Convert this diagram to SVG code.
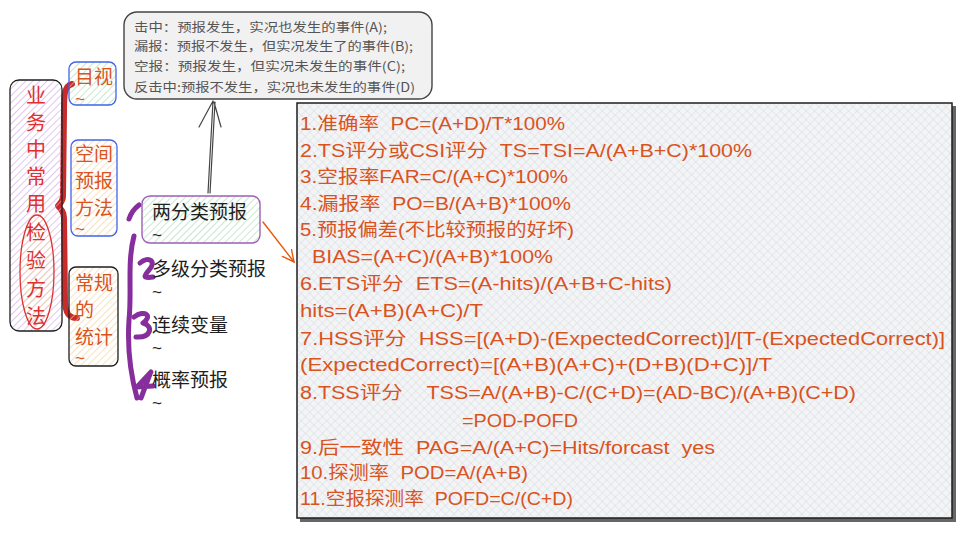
<svg xmlns="http://www.w3.org/2000/svg" width="960" height="551" viewBox="0 0 960 551">
<defs>
<pattern id="hPurple" patternUnits="userSpaceOnUse" width="5" height="5" patternTransform="rotate(45)"><line x1="0" y1="0" x2="0" y2="5" stroke="#cfa8e3" stroke-width="1.3"/></pattern>
<pattern id="hGreen" patternUnits="userSpaceOnUse" width="5" height="5" patternTransform="rotate(45)"><line x1="0" y1="0" x2="0" y2="5" stroke="#a8dcb0" stroke-width="1.3"/></pattern>
<pattern id="hOrange" patternUnits="userSpaceOnUse" width="5" height="5" patternTransform="rotate(45)"><line x1="0" y1="0" x2="0" y2="5" stroke="#f5d39e" stroke-width="1.3"/></pattern>
<pattern id="hGrid" patternUnits="userSpaceOnUse" width="6" height="6" patternTransform="rotate(45)"><rect width="6" height="6" fill="#f3f4f6"/><line x1="0" y1="0" x2="0" y2="6" stroke="#d5d8dc" stroke-width="0.9"/><line x1="0" y1="0" x2="6" y2="0" stroke="#d5d8dc" stroke-width="0.9"/></pattern>
<marker id="arrO" markerWidth="14" markerHeight="14" refX="12" refY="7" orient="auto" markerUnits="userSpaceOnUse"><path d="M0,1 L12,7 L0,13" fill="none" stroke="#e8590c" stroke-width="1.4"/></marker>
</defs>
<style>
.zh{font-family:"Noto Sans CJK SC","Noto Sans",sans-serif}
.lft{font-size:20px;fill:#e03131}
.br{font-size:19px;fill:#d9531e}
.blk{font-size:19px;fill:#1e1e1e}
.tl{font-family:"Liberation Sans",sans-serif;font-size:17px}
.tlb{fill:#d9531e}
.tlk{fill:#1e1e1e}
.note{font-size:12.5px;fill:#555}
.f{font-family:"Liberation Sans","Noto Sans CJK SC",sans-serif;font-size:18px;fill:#d9531e;white-space:pre}
</style>
<rect width="960" height="551" fill="#fff"/>

<g id="connectors" fill="none" stroke-linecap="round" stroke-linejoin="round">
<path d="M72,84 C64,86 64,96 64,112 L63,196 C63,202 60,203 58,206 C61,209 64,212 64,218 L65,300 C65,312 68,318 77,318" stroke="#c92a2a" stroke-width="6"/>
<path d="M129,219 C131,213 135,208 139,205" stroke="#862e9c" stroke-width="5"/>
<path d="M134,236 C127,262 132,292 129,320 C127,350 131,376 137,398" stroke="#862e9c" stroke-width="5"/>
<path d="M140,263 C149,255 157,262 149,270 C145,275 141,279 153,277" stroke="#862e9c" stroke-width="5"/>
<path d="M134,317 C145,309 153,316 143,323 C154,326 151,338 136,337" stroke="#862e9c" stroke-width="5"/>
<path d="M151,372 L137,387 L153,386 M150,374 L141,398" stroke="#862e9c" stroke-width="5"/>
<path d="M208,193 L213,101 M210,193 L215,102 M213,101 L199,127 M214,102 L221,127" stroke="#444" stroke-width="1.2"/>
<path d="M263,222 L294,262" stroke="#e8590c" stroke-width="1.4" marker-end="url(#arrO)"/>
</g>

<g id="n-main">
<rect x="10" y="80" width="52" height="251" rx="9" fill="url(#hPurple)" stroke="#1e1e1e" stroke-width="1.3"/>
<ellipse cx="37" cy="272" rx="17" ry="57" fill="url(#hOrange)" stroke="#e03131" stroke-width="1.3"/>
<g class="zh lft" text-anchor="middle">
<text x="36" y="103">业</text><text x="36" y="130">务</text><text x="36" y="157">中</text><text x="36" y="184">常</text><text x="36" y="211">用</text><text x="36" y="240">检</text><text x="36" y="268">验</text><text x="36" y="296">方</text><text x="36" y="324">法</text>
</g>
</g>

<g id="n-mushi">
<rect x="69" y="62" width="47" height="43" rx="7" fill="url(#hGreen)" stroke="#4263eb" stroke-width="1.3"/>
<text class="zh br" x="75" y="84">目视</text>
<text class="tl tlb" x="75" y="105">~</text>
</g>

<g id="n-kongjian">
<rect x="71" y="140" width="46" height="96" rx="7" fill="url(#hOrange)" stroke="#4263eb" stroke-width="1.3"/>
<text class="zh br" x="75" y="161">空间</text>
<text class="zh br" x="75" y="188">预报</text>
<text class="zh br" x="75" y="215">方法</text>
<text class="tl tlb" x="75" y="235">~</text>
</g>

<g id="n-changgui">
<rect x="69" y="267" width="49" height="99" rx="7" fill="url(#hOrange)" stroke="#1e1e1e" stroke-width="1.3"/>
<text class="zh br" x="75" y="290">常规</text>
<text class="zh br" x="75" y="317">的</text>
<text class="zh br" x="75" y="344">统计</text>
<text class="tl tlb" x="75" y="364">~</text>
</g>

<g id="n-note">
<rect x="124" y="12" width="308" height="87" rx="13" fill="#f1f1f1" stroke="#444" stroke-width="1.4"/>
<g class="zh note">
<text x="134" y="32" textLength="253" lengthAdjust="spacingAndGlyphs">击中：预报发生，实况也发生的事件(A);</text>
<text x="134" y="51" textLength="279" lengthAdjust="spacingAndGlyphs">漏报：预报不发生，但实况发生了的事件(B);</text>
<text x="134" y="71" textLength="271" lengthAdjust="spacingAndGlyphs">空报：预报发生，但实况未发生的事件(C);</text>
<text x="134" y="92" textLength="281" lengthAdjust="spacingAndGlyphs">反击中:预报不发生，实况也未发生的事件(D)</text>
</g>
</g>

<g id="n-liangfenlei">
<rect x="142" y="196" width="118" height="47" rx="8" fill="url(#hGreen)" stroke="#9c5fb5" stroke-width="1.4"/>
<text class="zh blk" x="152" y="219">两分类预报</text>
<text class="tl tlk" x="152" y="241">~</text>
</g>
<g id="n-duoji"><text class="zh blk" x="152" y="276">多级分类预报</text><text class="tl tlk" x="152" y="298">~</text></g>
<g id="n-lianxu"><text class="zh blk" x="152" y="332">连续变量</text><text class="tl tlk" x="152" y="354">~</text></g>
<g id="n-gailv"><text class="zh blk" x="152" y="387">概率预报</text><text class="tl tlk" x="152" y="409">~</text></g>

<g id="n-formula">
<rect x="300" y="106" width="656" height="416" fill="#666"/>
<rect x="297" y="103" width="655" height="415" fill="url(#hGrid)" stroke="#1e1e1e" stroke-width="1.5"/>
<text class="f" x="300" y="130" textLength="265" lengthAdjust="spacingAndGlyphs">1.准确率  PC=(A+D)/T*100%</text>
<text class="f" x="300" y="157" textLength="452" lengthAdjust="spacingAndGlyphs">2.TS评分或CSI评分  TS=TSI=A/(A+B+C)*100%</text>
<text class="f" x="300" y="183" textLength="268" lengthAdjust="spacingAndGlyphs">3.空报率FAR=C/(A+C)*100%</text>
<text class="f" x="300" y="210" textLength="271" lengthAdjust="spacingAndGlyphs">4.漏报率  PO=B/(A+B)*100%</text>
<text class="f" x="300" y="236" textLength="274" lengthAdjust="spacingAndGlyphs">5.预报偏差(不比较预报的好坏)</text>
<text class="f" x="312" y="263" textLength="241" lengthAdjust="spacingAndGlyphs">BIAS=(A+C)/(A+B)*100%</text>
<text class="f" x="300" y="290" textLength="372" lengthAdjust="spacingAndGlyphs">6.ETS评分  ETS=(A-hits)/(A+B+C-hits)</text>
<text class="f" x="300" y="317" textLength="183" lengthAdjust="spacingAndGlyphs">hits=(A+B)(A+C)/T</text>
<text class="f" x="300" y="345" textLength="645" lengthAdjust="spacingAndGlyphs">7.HSS评分  HSS=[(A+D)-(ExpectedCorrect)]/[T-(ExpectedCorrect)]</text>
<text class="f" x="300" y="371" textLength="472" lengthAdjust="spacingAndGlyphs">(ExpectedCorrect)=[(A+B)(A+C)+(D+B)(D+C)]/T</text>
<text class="f" x="300" y="399" textLength="556" lengthAdjust="spacingAndGlyphs">8.TSS评分    TSS=A/(A+B)-C/(C+D)=(AD-BC)/(A+B)(C+D)</text>
<text class="f" x="462" y="427" textLength="116" lengthAdjust="spacingAndGlyphs">=POD-POFD</text>
<text class="f" x="300" y="454" textLength="415" lengthAdjust="spacingAndGlyphs">9.后一致性  PAG=A/(A+C)=Hits/forcast  yes</text>
<text class="f" x="300" y="479" textLength="228" lengthAdjust="spacingAndGlyphs">10.探测率  POD=A/(A+B)</text>
<text class="f" x="300" y="505" textLength="273" lengthAdjust="spacingAndGlyphs">11.空报探测率  POFD=C/(C+D)</text>
</g>
</svg>
